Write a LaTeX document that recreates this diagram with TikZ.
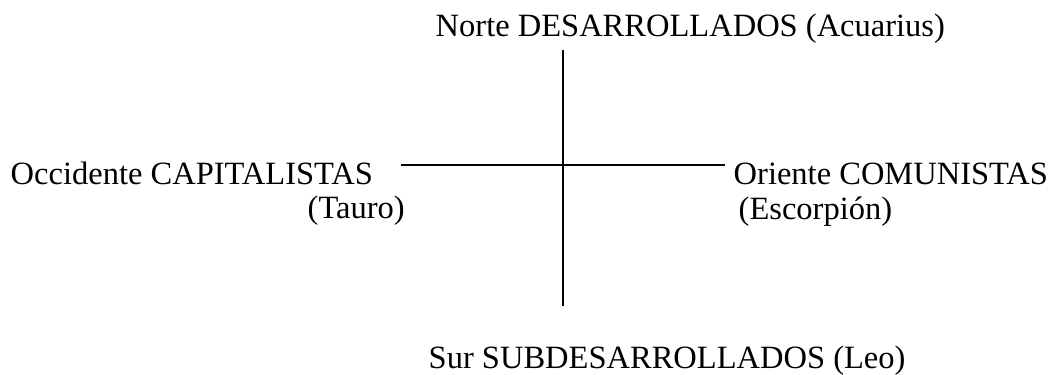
\documentclass[tikz,border=0pt]{standalone}
\usepackage{fontspec}
\setmainfont{Liberation Serif}
\usepackage{tikz}

\tikzset{
  lbl/.style={anchor=base west, inner sep=0pt, font=\fontsize{9.25}{11}\selectfont},
  axis/.style={line width=0.55pt}
}

\begin{document}
\begin{tikzpicture}
      \useasboundingbox (0,0) rectangle (10.5,3.75);

      \node[lbl] (norte) at (4.35,3.38){Norte DESARROLLADOS (Acuarius)};
      \node[lbl] (occ) at (0.10,1.91){Occidente CAPITALISTAS};
      \node[lbl] (tauro) at (3.07,1.56){(Tauro)};
      \node[lbl] (ori) at (7.33,1.91){Oriente COMUNISTAS};
      \node[lbl] (escorp) at (7.38,1.55){(Escorpión)};
      \node[lbl] (sur) at (4.28,0.07){Sur SUBDESARROLLADOS (Leo)};

      % ends of the cross
      \coordinate (n) at (5.63,3.25);
      \coordinate (s) at (5.63,0.69);
      \coordinate (w) at (4.01,2.10);
      \coordinate (e) at (7.25,2.10);

      \draw[axis] (n) -- (s);
      \draw[axis] (w) -- (e);

    \end{tikzpicture}
\end{document}
